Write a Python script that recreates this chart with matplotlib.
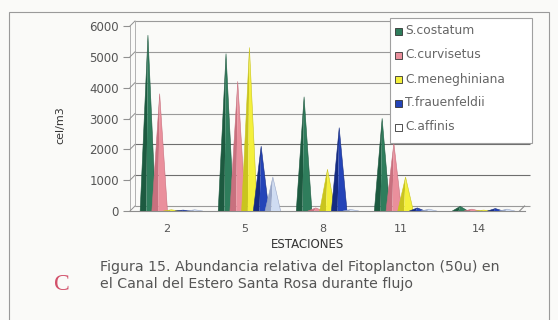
import matplotlib
matplotlib.use("Agg")
import matplotlib.pyplot as plt
from matplotlib.patches import Polygon, Rectangle
from matplotlib.lines import Line2D
import matplotlib.transforms as mtransforms

# Estaciones y abundancias (cel/m3) por especie
estaciones = ["2", "5", "8", "11", "14"]
especies = ["S.costatum", "C.curvisetus", "C.meneghiniana", "T.frauenfeldii", "C.affinis"]
s_costatum = [5700, 5100, 3700, 3000, 150]
c_curvisetus = [3800, 4200, 100, 2200, 60]
c_meneghiniana = [40, 5300, 1350, 1100, 30]
t_frauenfeldii = [30, 2100, 2700, 100, 80]
c_affinis = [40, 1100, 50, 60, 60]
series = [s_costatum, c_curvisetus, c_meneghiniana, t_frauenfeldii, c_affinis]

colores = ["#2f7d5c", "#ea8f9c", "#f4f03c", "#2444b8", "#cfdcf2"]
sombras = ["#1d5a40", "#c8707e", "#c9c41e", "#162c82", "#9aa8c8"]
yticks = [0, 1000, 2000, 3000, 4000, 5000, 6000]

FONT = "DejaVu Sans"
W, H = 558, 320
fig = plt.figure(figsize=(W / 100, H / 100), dpi=100)
fig.patch.set_facecolor("#fafaf8")

# marco de la figura
fig.add_artist(Rectangle((9 / W, -0.1), 540 / W, 1.1 - 12 / H, transform=fig.transFigure,
                         fill=False, edgecolor="#9a9a9a", linewidth=0.8))

ax = fig.add_axes([130 / W, (H - 211) / H, 395 / W, 185 / H])
ax.set_xlim(-0.47, 4.59)
ax.set_ylim(0, 6000)
ax.patch.set_alpha(0)
for s in ax.spines.values():
    s.set_visible(False)

# desplazamiento de la pared del fondo (efecto 3D)
back = mtransforms.ScaledTranslation(5 / 100, 5 / 100, fig.dpi_scale_trans)
tb = ax.transData + back

for v in yticks:
    gc = "#6e6e6e" if v in (1000, 2000) else "#9a9a9a"
    ax.plot([-0.47, 4.59], [v, v], transform=tb, color=gc, lw=0.8,
            solid_capstyle="butt", clip_on=False)
# pared izquierda y conectores de ticks
ax.plot([-0.47, -0.47], [0, 6000], transform=tb, color="#b0b0b0", lw=0.7, clip_on=False)
ax.plot([-0.47, -0.47], [0, 6000], color="#b0b0b0", lw=0.7, clip_on=False)
for v in yticks:
    x0, y0 = ax.transData.transform((-0.47, v))
    x1, y1 = tb.transform((-0.47, v))
    fig.add_artist(Line2D([x0 / W, x1 / W], [y0 / H, y1 / H], color="#909090", lw=0.7,
                          transform=fig.transFigure))
# piso
ax.plot([-0.47, 4.59], [0, 0], color="#8c8c8c", lw=0.8, clip_on=False)
x0, y0 = ax.transData.transform((4.52, 0))
x1, y1 = tb.transform((4.52, 0))
fig.add_artist(Line2D([x0 / W, x1 / W], [y0 / H, y1 / H], color="#8c8c8c", lw=0.8,
                      transform=fig.transFigure))

# conos
half = 0.1
paso = 0.15
for k, (vals, c, sh) in enumerate(zip(series, colores, sombras)):
    for i, v in enumerate(vals):
        xc = i - 0.24 + paso * k
        ax.add_patch(Polygon([(xc - half, 0), (xc, v), (xc - half * 0.2, 0)], closed=True,
                             facecolor=sh, edgecolor="none", zorder=3 + k))
        ax.add_patch(Polygon([(xc - half * 0.2, 0), (xc, v), (xc + half, 0)], closed=True,
                             facecolor=c, edgecolor="none", zorder=3 + k))
        ax.plot([xc - half, xc, xc + half], [0, v, 0], color=sh, lw=0.4, zorder=3 + k)

ax.set_yticks(yticks)
ax.set_yticklabels([str(v) for v in yticks], fontsize=8.5, color="#555555", family=FONT)
ax.set_xticks(range(len(estaciones)))
ax.set_xticklabels(estaciones, fontsize=8, color="#555555", family=FONT)
ax.tick_params(axis="y", length=5, color="#909090", pad=3)
ax.tick_params(axis="x", length=0, pad=9)

fig.text(60 / W, 1 - 125 / H, "cel/m3", rotation=90, ha="center", va="center",
         fontsize=8, color="#333333", family=FONT)
fig.text(308 / W, 1 - 245 / H, "ESTACIONES", ha="center", va="center",
         fontsize=8.5, color="#333333", family=FONT)

# leyenda
fig.add_artist(Rectangle((390 / W, 1 - 143 / H), 142 / W, 125 / H, transform=fig.transFigure,
                         facecolor="white", edgecolor="#a0a0a0", linewidth=0.8, zorder=10))
for k, (nombre, c, sh) in enumerate(zip(especies, colores, sombras)):
    yy = 1 - (31 + 24 * k) / H
    fc = "white" if k == 4 else c
    fig.add_artist(Rectangle((395 / W, yy - 3.5 / H), 7 / W, 7 / H, transform=fig.transFigure,
                             facecolor=fc, edgecolor="#333333", linewidth=0.6, zorder=11))
    fig.text(405 / W, yy, nombre, ha="left", va="center", fontsize=8.8, color="#666666",
             family=FONT, zorder=12)

# leyenda de la figura
fig.text(100 / W, 1 - 267 / H, "Figura 15. Abundancia relativa del Fitoplancton (50u) en",
         ha="left", va="center", fontsize=10.2, color="#555555", family=FONT)
fig.text(100 / W, 1 - 284 / H, "el Canal del Estero Santa Rosa durante flujo",
         ha="left", va="center", fontsize=10.2, color="#555555", family=FONT)
fig.text(62 / W, 1 - 284 / H, "C", ha="center", va="center", fontsize=17,
         color="#d2506a", family="Liberation Serif")

fig.savefig("out.png", dpi=100, facecolor=fig.get_facecolor())
